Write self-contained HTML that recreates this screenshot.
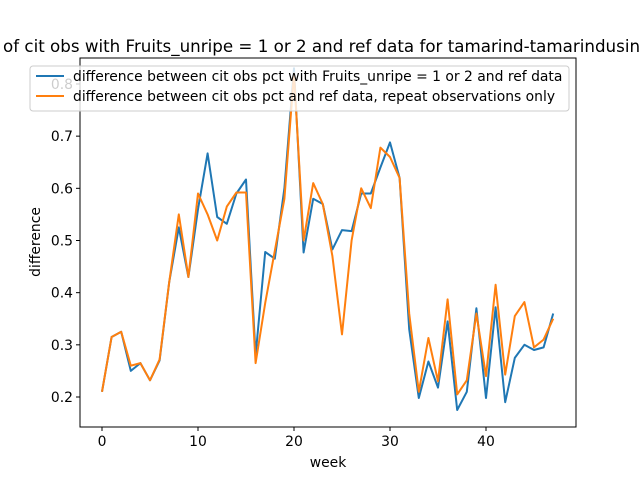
<!DOCTYPE html>
<html><head><meta charset="utf-8"><style>body{margin:0;background:#fff}svg{display:block;font-family:"DejaVu Sans","Liberation Sans",sans-serif}</style></head>
<body>
<svg id="c" width="640" height="480"></svg>
<script>
const weeks=[];for(let i=0;i<48;i++)weeks.push(i);
const blueVals=[0.21,0.315,0.325,0.25,0.265,0.232,0.27,0.42,0.525,0.43,0.56,0.667,0.545,0.532,0.59,0.617,0.28,0.478,0.465,0.6,0.83,0.477,0.58,0.57,0.483,0.52,0.518,0.59,0.59,0.64,0.688,0.62,0.33,0.198,0.268,0.218,0.345,0.175,0.21,0.37,0.198,0.372,0.19,0.275,0.3,0.29,0.295,0.36];
const orangeVals=[0.21,0.315,0.325,0.26,0.265,0.232,0.272,0.42,0.55,0.43,0.59,0.55,0.5,0.565,0.592,0.592,0.265,0.38,0.48,0.58,0.82,0.5,0.61,0.57,0.47,0.32,0.5,0.6,0.562,0.678,0.66,0.62,0.36,0.21,0.313,0.23,0.387,0.205,0.232,0.36,0.24,0.415,0.243,0.355,0.382,0.295,0.31,0.35];
const xTicks=[0,10,20,30,40];
const yTicks=[0.2,0.3,0.4,0.5,0.6,0.7,0.8];
const L=80,R=576,T=58,B=427;
const xs=v=>102+v*9.6;
const ys=v=>397-(v-0.2)*521.7;
const svg=document.getElementById('c');const NS='http://www.w3.org/2000/svg';
function mk(t,a,p){const e=document.createElementNS(NS,t);for(const k in a)e.setAttribute(k,a[k]);(p||svg).appendChild(e);return e;}
const title=mk('text',{x:3,y:52,'font-size':16.7});title.textContent='of cit obs with Fruits_unripe = 1 or 2 and ref data for tamarind-tamarindusindica';


const frame=mk('rect',{x:L,y:T,width:R-L,height:B-T,fill:'none',stroke:'#000','stroke-width':1});


xTicks.forEach(t=>{const x=xs(t);mk('line',{x1:x,x2:x,y1:B,y2:B+4,stroke:'#000'});const tx=mk('text',{x:x,y:B+19,'font-size':13.9,'text-anchor':'middle'});tx.textContent=t;

});
yTicks.forEach(t=>{const y=ys(t);mk('line',{x1:L-4,x2:L,y1:y,y2:y,stroke:'#000'});const tx=mk('text',{x:L-7,y:y+5,'font-size':13.9,'text-anchor':'end'});tx.textContent=t.toFixed(1);

});
const xl=mk('text',{x:328,y:467,'font-size':13.9,'text-anchor':'middle'});xl.textContent='week';


const yl=mk('text',{x:0,y:0,'font-size':13.9,'text-anchor':'middle',transform:'translate(40,242) rotate(-90)'});yl.textContent='difference';


function line(vals,col,name){const d=vals.map((v,i)=>(i?'L':'M')+xs(weeks[i]).toFixed(1)+','+ys(v).toFixed(1)).join('');const p=mk('path',{d:d,fill:'none',stroke:col,'stroke-width':2,'stroke-linejoin':'round'});

}
line(blueVals,'#1f77b4','series-fruits-unripe');
line(orangeVals,'#ff7f0e','series-repeat-observations');
const lg=mk('g',{});


mk('rect',{x:30,y:66,width:539,height:45,rx:3,fill:'#fff','fill-opacity':0.8,stroke:'#ccc'},lg);
[['#1f77b4','difference between cit obs pct with Fruits_unripe = 1 or 2 and ref data',76],['#ff7f0e','difference between cit obs pct and ref data, repeat observations only',96]].forEach(r=>{
mk('line',{x1:36,x2:64,y1:r[2],y2:r[2],stroke:r[0],'stroke-width':2},lg);
const t=mk('text',{x:73,y:r[2]+5,'font-size':13.9},lg);t.textContent=r[1];

});
</script>
</body></html>
